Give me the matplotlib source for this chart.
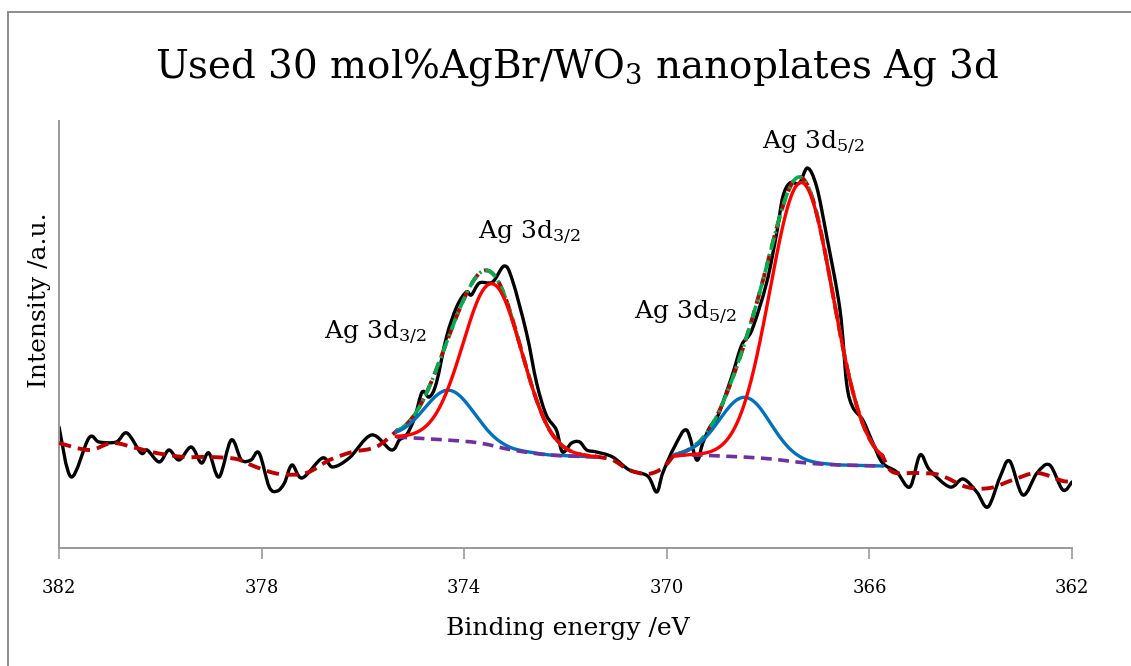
import numpy as np
import matplotlib
matplotlib.use("Agg")
import matplotlib.pyplot as plt
from matplotlib.patches import Rectangle, PathPatch
from matplotlib.path import Path

plt.rcParams['font.family'] = ['DejaVu Serif']
plt.rcParams['mathtext.fontset'] = 'dejavuserif'

# raw Ag 3d spectrum (binding energy / eV, intensity / a.u.)
be_raw = [382.00, 381.76, 381.41, 381.21, 380.87, 380.66, 380.38, 380.26, 380.02, 379.83,
          379.63, 379.39, 379.19, 379.04, 378.84, 378.60, 378.40, 378.21, 378.05, 377.85,
          377.69, 377.55, 377.40, 377.20, 376.80, 376.60, 376.27, 375.83, 375.44, 375.28,
          375.14, 374.98, 374.83, 374.69, 374.55, 374.35, 374.15, 373.96, 373.86, 373.70,
          373.44, 373.21, 373.05, 372.77, 372.57, 372.38, 372.18, 372.06, 371.88, 371.72,
          371.58, 371.39, 371.07, 370.74, 370.38, 370.20, 370.08, 369.85, 369.61, 369.41,
          369.29, 369.15, 369.00, 368.72, 368.52, 368.32, 368.03, 367.83, 367.71, 367.57,
          367.38, 367.22, 367.04, 366.84, 366.58, 366.45, 366.33, 366.13, 365.93, 365.74,
          365.46, 365.20, 365.00, 364.81, 364.41, 364.15, 363.88, 363.66, 363.42, 363.23,
          362.97, 362.69, 362.44, 362.18, 362.00]
int_raw = [121, 71, 110, 106, 106, 115, 95, 98, 86, 98,
           88, 101, 85, 95, 71, 108, 88, 88, 95, 61,
           57, 65, 83, 70, 90, 81, 90, 113, 98, 108,
           113, 130, 156, 151, 165, 211, 241, 256, 253, 265,
           266, 282, 268, 215, 165, 133, 118, 96, 105, 106,
           98, 96, 91, 78, 72, 56, 75, 101, 118, 88,
           105, 121, 131, 171, 203, 218, 265, 315, 351, 365,
           365, 380, 361, 311, 238, 165, 141, 128, 105, 85,
           76, 61, 93, 78, 61, 69, 56, 41, 71, 87,
           53, 75, 83, 58, 66]

# smoothed trace outside the fitted windows
be_smooth_hi = [382.00, 381.41, 380.95, 380.48, 380.08, 379.53, 379.04, 378.50, 378.11,
                377.65, 377.12, 376.66, 376.21, 375.74]
int_smooth_hi = [105, 98, 105, 100, 95, 91, 91, 89, 81, 74, 75, 88, 96, 101]
be_smooth_mid = [371.07, 370.74, 370.38, 370.08]
int_smooth_mid = [88, 78, 74, 80]
be_smooth_lo = [365.54, 365.06, 364.61, 364.08, 363.62, 363.17, 362.69, 362.18, 362.00]
int_smooth_lo = [76, 75, 73, 61, 60, 68, 75, 67, 67]

# Shirley backgrounds of the two fit windows
be_bg1 = [375.34, 374.35, 373.70, 373.05, 372.32, 371.39]
int_bg1 = [111, 108, 105, 98, 93, 91]
be_bg2 = [369.85, 369.49, 368.17, 367.24, 366.58, 365.74]
int_bg2 = [92, 93, 90, 85, 83, 82]

# fitted components: centre / eV, height above background, FWHM / eV
peak_centre = {'3d32_a': 373.44, '3d32_b': 374.30, '3d52_a': 367.34, '3d52_b': 368.46}
peak_height = {'3d32_a': 162, '3d32_b': 50, '3d52_a': 280, '3d52_b': 60}
peak_fwhm = {'3d32_a': 1.37, '3d32_b': 1.14, '3d52_a': 1.46, '3d52_b': 1.18}


def gauss(x, key):
    s = peak_fwhm[key] / (2 * np.sqrt(2 * np.log(2)))
    return peak_height[key] * np.exp(-(x - peak_centre[key]) ** 2 / (2 * s ** 2))


def smooth_line(ax, xs, ys, **kw):
    # Catmull-Rom style Bezier through the points (like a "smoothed line")
    p = np.column_stack([xs, ys]).astype(float)
    verts = [p[0]]
    codes = [Path.MOVETO]
    n = len(p)
    for i in range(n - 1):
        p0 = p[max(i - 1, 0)]
        p1 = p[i]
        p2 = p[i + 1]
        p3 = p[min(i + 2, n - 1)]
        verts += [p1 + (p2 - p0) / 6, p2 - (p3 - p1) / 6, p2]
        codes += [Path.CURVE4] * 3
    ax.add_patch(PathPatch(Path(verts, codes), fill=False, **kw))


fig = plt.figure(figsize=(11.31, 6.66), dpi=100)
ax = fig.add_axes([0.0522, 0.1772, 0.8956, 0.6411])

# frame around the chart area
fig.patches.append(Rectangle((0.0071, -0.05), 1.2, 1.032, transform=fig.transFigure,
                             fill=False, edgecolor='#8c8c8c', lw=1.4))

smooth_line(ax, be_raw, int_raw, edgecolor='black', lw=2.4, zorder=2,
            capstyle='round', joinstyle='round')

smooth_x = list(be_smooth_hi)
smooth_y = list(int_smooth_hi)
for be_bg, int_bg, keys, tail_x, tail_y in [
        (be_bg1, int_bg1, ('3d32_a', '3d32_b'), be_smooth_mid, int_smooth_mid),
        (be_bg2, int_bg2, ('3d52_a', '3d52_b'), be_smooth_lo, int_smooth_lo)]:
    x = np.linspace(be_bg[0], be_bg[-1], 300)
    bg = np.interp(x, be_bg[::-1], int_bg[::-1])
    red = bg + gauss(x, keys[0])
    blue = bg + gauss(x, keys[1])
    env = bg + gauss(x, keys[0]) + gauss(x, keys[1])
    ax.plot(x, env, color='#00B050', lw=2.6, ls=(0, (3.5, 1.2, 0.6, 1.2)), zorder=4)
    ax.plot(x, blue, color='#0070C0', lw=2.4, zorder=5)
    ax.plot(x, red, color='#FF0000', lw=2.4, zorder=6)
    smooth_line(ax, be_bg, int_bg, edgecolor='#7030A0', lw=2.6, ls=(0, (3, 1.8)), zorder=5)
    smooth_x += list(x) + list(tail_x)
    smooth_y += list(env) + list(tail_y)

smooth_line(ax, smooth_x, smooth_y, edgecolor='#C00000', lw=2.8, ls=(0, (3.2, 1.8)), zorder=3)

labels = [(367.10, 405, 'Ag 3d$_{5/2}$'), (372.71, 315, 'Ag 3d$_{3/2}$'),
          (375.75, 215, 'Ag 3d$_{3/2}$'), (369.63, 235, 'Ag 3d$_{5/2}$')]
for bx, by, txt in labels:
    ax.text(bx, by, txt, fontsize=18, ha='center', va='center')

ax.set_xlim(382, 362)
ax.set_ylim(0, 427)
ax.set_xticks([382, 378, 374, 370, 366, 362])
ax.set_yticks([])
ax.tick_params(axis='x', direction='out', length=8, width=1.2, color='#999999',
               labelsize=13, pad=14)
for side in ['top', 'right']:
    ax.spines[side].set_visible(False)
for side in ['left', 'bottom']:
    ax.spines[side].set_color('#999999')
    ax.spines[side].set_linewidth(1.4)

fig.text(0.51, 0.90, 'Used 30 mol%AgBr/WO$_3$ nanoplates Ag 3d', fontsize=28,
         ha='center', va='center')
fig.text(0.502, 0.057, 'Binding energy /eV', fontsize=18, ha='center', va='center')
fig.text(0.035, 0.55, 'Intensity /a.u.', fontsize=18, rotation=90, ha='center', va='center')

fig.savefig('out.png', dpi=100)
